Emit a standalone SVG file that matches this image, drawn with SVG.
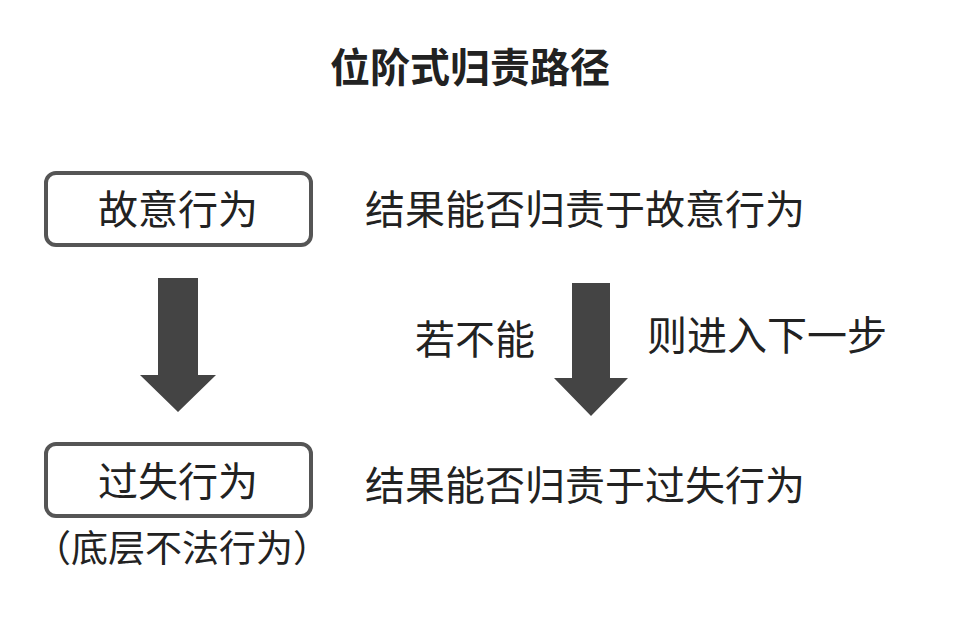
<svg xmlns="http://www.w3.org/2000/svg" width="960" height="620" viewBox="0 0 960 620">
<style>
text{font-family:"Noto Sans CJK SC","Noto Sans CJK JP",sans-serif;fill:#222;}
.t{font-size:40px;}
.box{fill:#fff;stroke:#555;stroke-width:4;}
.arr{fill:#444;}
</style>
<rect width="960" height="620" fill="#fff"/>
<text x="470" y="82" text-anchor="middle" style="font-size:40px;font-weight:bold">位阶式归责路径</text>
<g id="node1"><rect class="box" x="46" y="173" width="265" height="72" rx="10"/><text class="t" x="178" y="224" text-anchor="middle">故意行为</text></g>
<g id="q1"><text class="t" x="365" y="224">结果能否归责于故意行为</text></g>
<g id="node2"><rect class="box" x="46" y="444" width="265" height="72" rx="10"/><text class="t" x="178" y="496" text-anchor="middle">过失行为</text><text x="182" y="562" text-anchor="middle" style="font-size:37px">（底层不法行为）</text></g>
<g id="q2"><text class="t" x="365" y="500">结果能否归责于过失行为</text></g>
<g id="connectors">
<polygon class="arr" points="158,278 198,278 198,375 216,375 178,412 140,375 158,375"/>
<polygon class="arr" points="572,283 610,283 610,378 628,378 591,416 554,378 572,378"/>
<text class="t" x="475" y="354" text-anchor="middle">若不能</text>
<text class="t" x="767" y="350" text-anchor="middle">则进入下一步</text>
</g>
</svg>
